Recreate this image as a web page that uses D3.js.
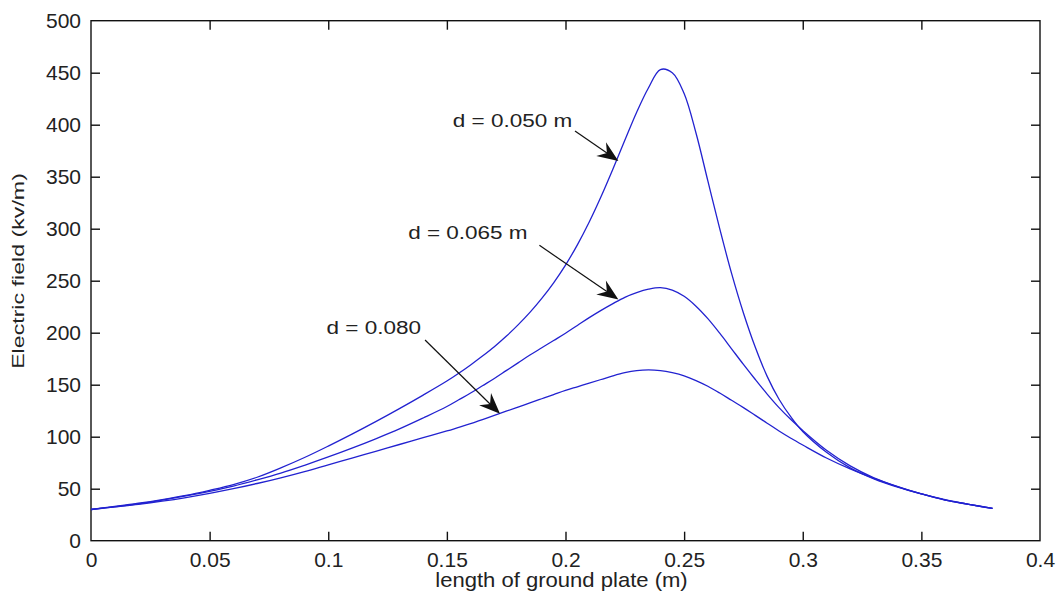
<!DOCTYPE html>
<html>
<head>
<meta charset="utf-8">
<script src="https://cdn.jsdelivr.net/npm/d3@7"></script>
<style>
  html, body { margin: 0; padding: 0; background: #fff; }
  svg { display: block; }
  text { font-family: "Liberation Sans", Arial, Helvetica, sans-serif; fill: #222; }
</style>
</head>
<body>
<svg id="chart" width="1058" height="601"></svg>
<script>
// Plate length positions (m), finer spacing around the field peak
const xValues = [
  0, 0.01, 0.02, 0.03, 0.04, 0.05, 0.06, 0.07, 0.08, 0.09,
  0.10, 0.11, 0.12, 0.13, 0.14, 0.15,
  0.155, 0.16, 0.165, 0.17, 0.175, 0.18, 0.185, 0.19, 0.195, 0.20,
  0.205, 0.21, 0.215, 0.22, 0.225, 0.23, 0.235, 0.24, 0.245, 0.25,
  0.255, 0.26, 0.265, 0.27, 0.275, 0.28, 0.285, 0.29, 0.295, 0.30,
  0.31, 0.32, 0.33, 0.34, 0.35, 0.36, 0.37, 0.38
];

// Electric field (kV/m) for each electrode gap d
const fieldD050 = [
  30, 33, 36, 39.5, 43.5, 48.5, 54, 61, 70, 80,
  91, 102.5, 114.5, 127, 140, 153.5,
  161, 169, 177.5, 186.5, 196.5, 207.5, 219.5, 233, 248, 265,
  284.5, 306.5, 331, 357.5, 385, 412, 435.5, 453, 450, 430,
  392, 346, 300, 257, 219, 186, 158, 136, 119, 105,
  85, 70, 59.5, 51.5, 45, 39.5, 35, 31
];
const fieldD065 = [
  30, 32.5, 35.5, 39, 43, 47.5, 52.5, 58.5, 65, 72.5,
  80.5, 89, 98, 107.5, 118, 129,
  135.5, 142, 149, 156, 163.5, 171, 178.5, 185.5, 192.5, 199.5,
  207, 214.5, 221.5, 228, 234, 238.5, 241.8, 243.3, 241, 235,
  225.5, 213.5, 199.5, 184.5, 169.5, 155, 141, 128, 116.5, 106,
  87, 72, 60.5, 52, 45, 39, 35, 31
];
const fieldD080 = [
  30, 32.5, 35, 38, 41.5, 45.5, 50, 55, 60.5, 66.5,
  73, 79.5, 86, 92.5, 99, 105.5,
  109, 112.5, 116.5, 120.5, 124.5, 128.5, 132.5, 136.5, 140.5, 144.5,
  148, 151.5, 155, 158.5, 161.5, 163.5, 164.2, 163.5, 161.5, 158.5,
  154, 148.5, 142, 135, 128, 120.5, 113, 105.5, 98.5, 92,
  79.5, 69, 60, 52, 45, 39, 35, 31
];

const xTicks = [0, 0.05, 0.1, 0.15, 0.2, 0.25, 0.3, 0.35, 0.4];
const yTicks = [0, 50, 100, 150, 200, 250, 300, 350, 400, 450, 500];

// Curve labels: text anchor and arrow tail/tip, in data units
const labelTexts = ["d = 0.050 m", "d = 0.065 m", "d = 0.080"];
const labelAnchors = [[0.1525, 398], [0.1337, 290], [0.0993, 199]];
const arrowTails = [[0.204, 394], [0.189, 284], [0.1408, 193]];
const arrowTips = [[0.2223, 365], [0.2223, 232], [0.1724, 122]];

const svg = d3.select("#chart");
const plotLeft = 91, plotRight = 1040, plotTop = 20.7, plotBottom = 540.7;

const x = d3.scaleLinear().domain([0, 0.4]).range([plotLeft, plotRight]);
const y = d3.scaleLinear().domain([0, 500]).range([plotBottom, plotTop]);

const axisColor = "#111";
const tickLen = 9;

// Box
svg.append("rect")
  .attr("x", plotLeft).attr("y", plotTop)
  .attr("width", plotRight - plotLeft).attr("height", plotBottom - plotTop)
  .attr("fill", "none").attr("stroke", axisColor).attr("stroke-width", 1.4);

// Axes with inward ticks on all four sides
const fmtX = d => String(+d.toFixed(2));
const gB = svg.append("g").attr("transform", `translate(0,${plotBottom})`)
  .call(d3.axisBottom(x).tickValues(xTicks).tickSizeInner(-tickLen).tickSizeOuter(0)
    .tickPadding(11).tickFormat(fmtX));
const gT = svg.append("g").attr("transform", `translate(0,${plotTop})`)
  .call(d3.axisTop(x).tickValues(xTicks).tickSizeInner(-tickLen).tickSizeOuter(0).tickFormat(""));
const gL = svg.append("g").attr("transform", `translate(${plotLeft},0)`)
  .call(d3.axisLeft(y).tickValues(yTicks).tickSizeInner(-tickLen).tickSizeOuter(0)
    .tickPadding(10).tickFormat(d3.format("d")));
const gR = svg.append("g").attr("transform", `translate(${plotRight},0)`)
  .call(d3.axisRight(y).tickValues(yTicks).tickSizeInner(-tickLen).tickSizeOuter(0).tickFormat(""));

[gB, gT, gL, gR].forEach(g => {
  g.select(".domain").remove();
  g.selectAll(".tick line").attr("stroke", axisColor).attr("stroke-width", 1.4);
  g.selectAll(".tick text")
    .attr("fill", "#222")
    .style("font-size", "21px")
    .style("font-family", '"Liberation Sans", Arial, sans-serif');
});
// keep the end ticks off the box corners
gB.selectAll(".tick line").filter(d => d === 0 || d === 0.4).remove();
gT.selectAll(".tick line").filter(d => d === 0 || d === 0.4).remove();
gL.selectAll(".tick line").filter(d => d === 0 || d === 500).remove();
gR.selectAll(".tick line").filter(d => d === 0 || d === 500).remove();

// Axis titles
svg.append("text")
  .attr("transform", `translate(${(plotLeft + plotRight) / 2 - 4},587) scale(1.05,1)`)
  .attr("text-anchor", "middle")
  .style("font-size", "21px")
  .text("length of ground plate (m)");

svg.append("text")
  .attr("transform", `translate(23.5,271) rotate(-90) scale(1.45,1)`)
  .attr("text-anchor", "middle")
  .style("font-size", "16px")
  .text("Electric field (kv/m)");

// Field curves
const line = d3.line()
  .x(d => x(d[0]))
  .y(d => y(d[1]))
  .curve(d3.curveCatmullRom.alpha(0.5));

[fieldD050, fieldD065, fieldD080].forEach(series => {
  svg.append("path")
    .datum(xValues.map((xv, i) => [xv, series[i]]))
    .attr("fill", "none")
    .attr("stroke", "#2222d0")
    .attr("stroke-width", 1.3)
    .attr("stroke-linejoin", "round")
    .attr("d", line);
});

// Curve labels with arrows
const headLen = 21, headHalf = 8.5, notch = 14;
labelTexts.forEach((label, i) => {
  svg.append("text")
    .attr("transform", `translate(${x(labelAnchors[i][0])},${y(labelAnchors[i][1])}) scale(1.25,1)`)
    .style("font-size", "18px")
    .text(label);

  const tx = x(arrowTails[i][0]), ty = y(arrowTails[i][1]);
  const hx = x(arrowTips[i][0]), hy = y(arrowTips[i][1]);
  const ang = Math.atan2(hy - ty, hx - tx);
  const ux = Math.cos(ang), uy = Math.sin(ang);
  const px = -uy, py = ux;
  const bx = hx - ux * headLen, by = hy - uy * headLen;
  const nx = hx - ux * notch, ny = hy - uy * notch;

  svg.append("line")
    .attr("x1", tx).attr("y1", ty).attr("x2", nx).attr("y2", ny)
    .attr("stroke", "#111").attr("stroke-width", 1.2);

  svg.append("path")
    .attr("d", `M${hx},${hy}L${bx + px * headHalf},${by + py * headHalf}L${nx},${ny}L${bx - px * headHalf},${by - py * headHalf}Z`)
    .attr("fill", "#111");
});
</script>
</body>
</html>
